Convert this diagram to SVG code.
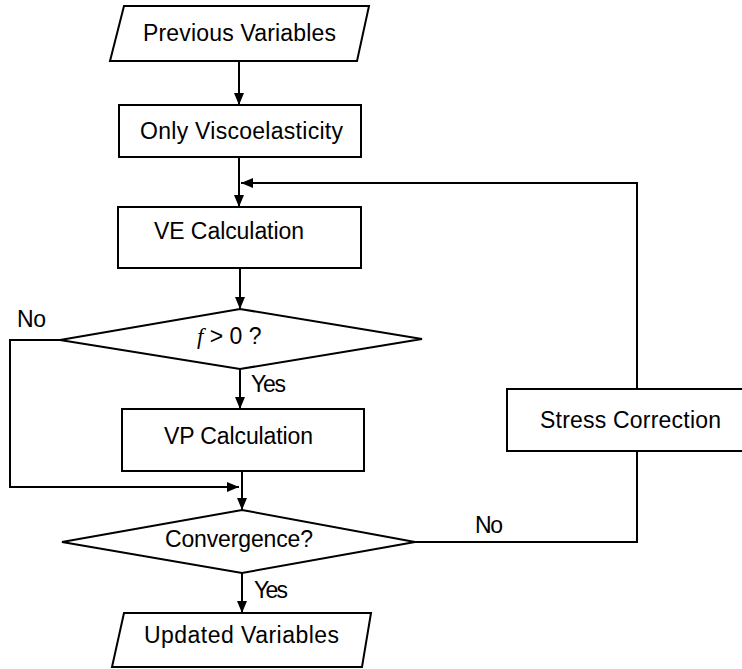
<svg xmlns="http://www.w3.org/2000/svg" width="742" height="669" viewBox="0 0 742 669">
<style>
.s{fill:#fff;stroke:#000;stroke-width:2}
.c{fill:none;stroke:#000;stroke-width:2}
text{font-family:"Liberation Sans",Arial,sans-serif;font-size:23px;fill:#000}
.it{font-family:"Liberation Serif","Times New Roman",serif;font-style:italic}
</style>
<defs>
<marker id="ah" viewBox="0 0 12 10" refX="12" refY="5" markerWidth="12" markerHeight="10" markerUnits="userSpaceOnUse" orient="auto">
<path d="M0,0 L12,5 L0,10 Z" fill="#000"/>
</marker>
</defs>
<rect width="742" height="669" fill="#fff"/>
<g id="connectors">
<path class="c" d="M239,61 V105" marker-end="url(#ah)"/>
<path class="c" d="M239,157 V207" marker-end="url(#ah)"/>
<path class="c" d="M637,389 V183 H241" marker-end="url(#ah)"/>
<path class="c" d="M240,268 V309" marker-end="url(#ah)"/>
<path class="c" d="M240,369 V409" marker-end="url(#ah)"/>
<path class="c" d="M60,340 H10 V487 H239" marker-end="url(#ah)"/>
<path class="c" d="M242,471 V510" marker-end="url(#ah)"/>
<path class="c" d="M242,573 V613" marker-end="url(#ah)"/>
<path class="c" d="M415,542 H637 V451"/>
<text x="17" y="327" textLength="29">No</text>
<text x="251" y="392" textLength="35">Yes</text>
<text x="254" y="598" textLength="34">Yes</text>
<text x="475" y="533" textLength="28">No</text>
</g>
<g id="prev">
<polygon class="s" points="124,6 369,6 357,61 110,61"/>
<text x="143" y="41" textLength="193">Previous Variables</text>
</g>
<g id="onlyve">
<rect class="s" x="119" y="105" width="242" height="52"/>
<text x="140" y="139" textLength="203">Only Viscoelasticity</text>
</g>
<g id="vecalc">
<rect class="s" x="118" y="207" width="243" height="61"/>
<text x="154" y="239" textLength="150">VE Calculation</text>
</g>
<g id="fcheck">
<polygon class="s" points="240,309 422,339 240,369 60,340"/>
<text x="197" y="344"><tspan class="it">f</tspan> &gt; 0 ?</text>
</g>
<g id="vpcalc">
<rect class="s" x="122" y="409" width="242" height="62"/>
<text x="164" y="444" textLength="149">VP Calculation</text>
</g>
<g id="conv">
<polygon class="s" points="242,510 415,542 242,573 62,542"/>
<text x="165" y="547" textLength="148">Convergence?</text>
</g>
<g id="updated">
<polygon class="s" points="124,613 371,613 362,667 112,667"/>
<text x="144" y="643" textLength="195">Updated Variables</text>
</g>
<g id="stress">
<rect class="s" x="507" y="389" width="245" height="62"/>
<text x="540" y="428" textLength="181">Stress Correction</text>
</g>
</svg>
